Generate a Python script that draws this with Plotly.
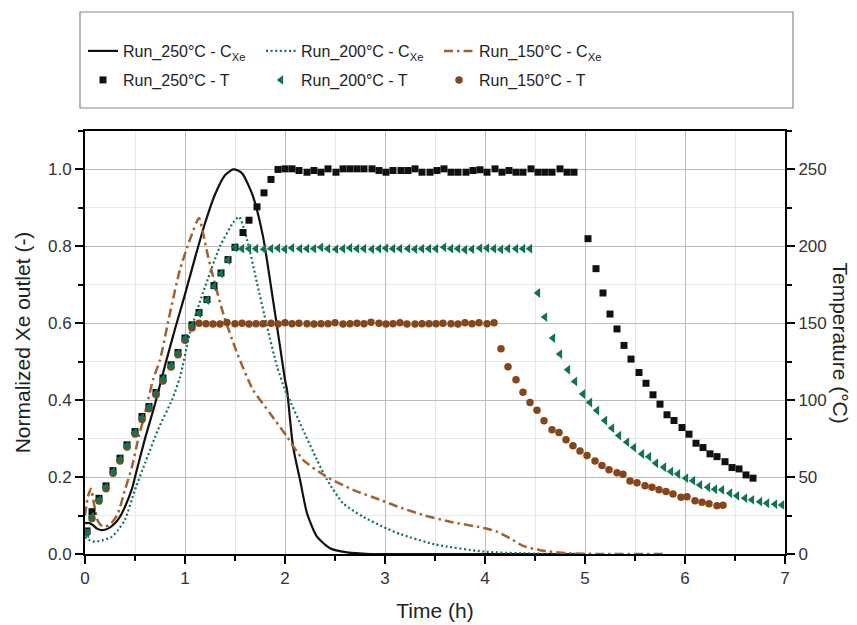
import plotly.graph_objects as go

# ---------------- Data ----------------
# Normalized Xe outlet concentration curves (left axis)
t_c250 = [0.00, 0.04, 0.08, 0.12, 0.17, 0.23, 0.30, 0.35, 0.40, 0.47, 0.50, 0.60, 0.70, 0.80, 0.90,
          1.00, 1.10, 1.20, 1.30, 1.40, 1.48, 1.53, 1.58, 1.68, 1.78, 1.88, 1.97, 2.00, 2.02, 2.08,
          2.15, 2.22, 2.32, 2.45, 2.62, 2.85, 3.50, 4.90]
c250 = [0.080, 0.081, 0.075, 0.066, 0.062, 0.066, 0.080, 0.097, 0.123, 0.170, 0.200, 0.300, 0.390,
        0.490, 0.585, 0.675, 0.770, 0.860, 0.935, 0.985, 1.000, 0.997, 0.987, 0.930, 0.826, 0.661,
        0.505, 0.453, 0.427, 0.280, 0.193, 0.106, 0.045, 0.015, 0.004, 0.000, 0.000, 0.000]

t_c200 = [0.00, 0.05, 0.10, 0.18, 0.27, 0.33, 0.40, 0.50, 0.60, 0.73, 0.87, 0.95, 1.05, 1.18, 1.35,
          1.48, 1.54, 1.62, 1.72, 1.82, 1.92, 2.00, 2.03, 2.18, 2.32, 2.42, 2.58, 2.78, 3.02, 3.15,
          3.50, 4.00, 4.50, 5.00]
c200 = [0.045, 0.035, 0.032, 0.036, 0.045, 0.062, 0.089, 0.167, 0.236, 0.323, 0.401, 0.460, 0.575,
        0.679, 0.800, 0.861, 0.877, 0.818, 0.705, 0.592, 0.488, 0.427, 0.410, 0.323, 0.245, 0.193,
        0.132, 0.097, 0.066, 0.052, 0.025, 0.006, 0.001, 0.000]

t_c150 = [0.00, 0.03, 0.06, 0.09, 0.13, 0.18, 0.24, 0.28, 0.33, 0.40, 0.47, 0.53, 0.60, 0.68, 0.75,
          0.85, 0.95, 1.05, 1.14, 1.18, 1.23, 1.28, 1.38, 1.52, 1.68, 1.85, 2.02, 2.18, 2.42, 2.68,
          2.95, 3.13, 3.40, 3.65, 4.00, 4.12, 4.25, 4.38, 4.55, 4.82, 5.20, 5.80]
c150 = [0.100, 0.150, 0.170, 0.130, 0.085, 0.071, 0.075, 0.085, 0.106, 0.167, 0.227, 0.297, 0.366,
        0.453, 0.505, 0.627, 0.740, 0.818, 0.874, 0.835, 0.774, 0.722, 0.627, 0.523, 0.427, 0.366,
        0.305, 0.245, 0.200, 0.167, 0.141, 0.123, 0.100, 0.084, 0.067, 0.058, 0.041, 0.021, 0.010,
        0.002, 0.000, 0.000]

# Temperature measurements (right axis)
t_T250 = [0.02, 0.07, 0.14, 0.21, 0.28, 0.35, 0.42, 0.50, 0.57, 0.64, 0.71, 0.78, 0.86, 0.93, 1.00,
          1.07, 1.14, 1.22, 1.29, 1.36, 1.43, 1.50, 1.58, 1.64, 1.72, 1.79, 1.86, 1.93,
          2.00, 2.07, 2.14, 2.22, 2.29, 2.36, 2.43, 2.51, 2.58, 2.65, 2.72, 2.79, 2.87, 2.94, 3.01,
          3.08, 3.16, 3.23, 3.30, 3.37, 3.45, 3.52, 3.59, 3.66, 3.73, 3.81, 3.88, 3.95, 4.02, 4.10,
          4.17, 4.24, 4.31, 4.38, 4.46, 4.53, 4.60, 4.67, 4.75, 4.82, 4.89,
          5.03, 5.11, 5.18, 5.25, 5.32, 5.39, 5.46, 5.54, 5.61, 5.68, 5.75, 5.82, 5.89, 5.97, 6.04,
          6.11, 6.18, 6.25, 6.32, 6.40, 6.47, 6.54, 6.61, 6.68]
T250 = [15.0, 27.5, 36.2, 44.3, 54.2, 62.3, 71.0, 79.6, 89.4, 95.9, 105.0, 114.4, 123.0, 131.0, 140.4,
        149.0, 157.0, 165.4, 174.5, 182.7, 191.4, 199.4, 209.0, 217.0, 225.7, 234.8, 243.5, 250.0,
        250.4, 250.4, 249.3, 248.2, 249.3, 248.2, 250.4, 248.2, 250.4, 250.4, 250.4, 250.4, 250.4,
        249.3, 248.2, 249.3, 249.3, 249.3, 250.4, 248.2, 248.2, 249.3, 250.4, 248.2, 248.2, 248.2,
        249.3, 249.8, 248.2, 250.4, 248.2, 249.3, 248.2, 248.2, 250.4, 248.2, 248.2, 248.2, 250.4,
        248.2, 248.2,
        205.0, 185.5, 169.7, 156.0, 146.3, 135.6, 126.7, 118.0, 111.0, 103.5, 97.4, 90.5, 86.8, 82.2,
        77.9, 72.0, 69.2, 65.1, 63.3, 60.0, 56.2, 55.3, 51.4, 49.3]

t_T200 = [0.02, 0.07, 0.14, 0.21, 0.28, 0.35, 0.42, 0.50, 0.57, 0.64, 0.71, 0.78, 0.86, 0.93, 1.00,
          1.07, 1.14, 1.22, 1.29, 1.36, 1.43,
          1.50, 1.57, 1.64, 1.71, 1.79, 1.86, 1.93, 2.00, 2.07, 2.15, 2.22, 2.29, 2.36, 2.43, 2.51,
          2.58, 2.65, 2.72, 2.79, 2.87, 2.94, 3.01, 3.08, 3.15, 3.23, 3.30, 3.37, 3.44, 3.51, 3.59,
          3.66, 3.73, 3.80, 3.87, 3.95, 4.02, 4.09, 4.16, 4.23, 4.31, 4.38, 4.45,
          4.53, 4.60, 4.68, 4.75, 4.83, 4.90, 4.98, 5.05, 5.12, 5.20, 5.27, 5.34, 5.42, 5.49, 5.57,
          5.64, 5.71, 5.79, 5.86, 5.93, 6.01, 6.08, 6.15, 6.23, 6.30, 6.37, 6.45, 6.52, 6.60, 6.67,
          6.75, 6.82, 6.90, 6.97]
T200 = [13.5, 24.3, 35.0, 43.5, 53.5, 61.5, 70.5, 79.0, 88.5, 95.5, 104.5, 114.0, 122.5, 130.5, 140.0,
        148.5, 156.5, 165.0, 174.0, 182.3, 191.0,
        199.4, 198.5, 198.5, 198.5, 198.2, 198.5, 198.8, 198.2, 199.0, 198.5, 198.5, 198.5, 199.4,
        198.5, 198.2, 198.5, 199.0, 198.5, 198.5, 198.2, 198.5, 198.8, 198.5, 198.5, 198.5, 198.2,
        198.5, 198.5, 198.5, 199.4, 198.5, 198.5, 197.8, 198.2, 198.8, 198.8, 198.5, 198.0, 198.5,
        198.5, 198.5, 198.5,
        169.7, 154.0, 140.4, 130.0, 119.8, 112.2, 104.0, 98.5, 93.3, 86.8, 81.8, 77.0, 72.7, 69.2,
        65.0, 63.3, 59.0, 56.4, 53.6, 52.0, 49.3, 47.7, 44.9, 43.4, 42.1, 41.7, 39.5, 37.8, 36.3,
        35.2, 34.0, 33.0, 32.4, 31.9]

t_T150 = [0.02, 0.07, 0.14, 0.21, 0.28, 0.35, 0.42, 0.50, 0.57, 0.64, 0.71, 0.78, 0.86, 0.93, 1.00,
          1.07,
          1.14, 1.21, 1.28, 1.35, 1.42, 1.50, 1.57, 1.64, 1.71, 1.78, 1.86, 1.93, 2.00, 2.07, 2.14,
          2.22, 2.29, 2.36, 2.43, 2.50, 2.58, 2.65, 2.72, 2.79, 2.86, 2.94, 3.01, 3.08, 3.15, 3.22,
          3.30, 3.37, 3.44, 3.51, 3.58, 3.66, 3.73, 3.80, 3.87, 3.94, 4.02, 4.09,
          4.16, 4.23, 4.31, 4.38, 4.45, 4.52, 4.59, 4.67, 4.74, 4.81, 4.88, 4.95, 5.02, 5.10, 5.17,
          5.24, 5.32, 5.38, 5.45, 5.52, 5.60, 5.67, 5.74, 5.81, 5.88, 5.96, 6.02, 6.10, 6.17, 6.24,
          6.32, 6.38]
T150 = [14.0, 23.0, 34.5, 42.5, 52.5, 60.5, 69.5, 78.0, 87.5, 94.5, 103.5, 112.5, 121.5, 129.5, 139.0,
        147.0,
        150.0, 149.7, 149.5, 149.5, 150.5, 149.7, 150.0, 149.5, 149.7, 149.7, 150.0, 149.5, 150.3,
        149.7, 150.0, 149.7, 149.5, 149.7, 149.7, 150.3, 149.5, 149.7, 150.0, 149.7, 150.6, 150.0,
        149.5, 149.7, 150.3, 149.5, 149.5, 149.7, 149.7, 149.7, 150.0, 149.7, 149.5, 150.3, 149.7,
        150.3, 149.7, 150.3,
        133.5, 121.7, 113.3, 105.2, 98.5, 93.5, 86.6, 80.7, 79.0, 74.2, 70.3, 67.0, 64.0, 60.5, 57.5,
        54.7, 52.9, 51.9, 47.5, 46.4, 44.3, 43.4, 41.7, 40.6, 39.0, 36.9, 37.3, 34.7, 33.6, 32.6,
        31.4, 31.7]

names_c = ["Run_250°C - C<sub>Xe</sub>", "Run_200°C - C<sub>Xe</sub>", "Run_150°C - C<sub>Xe</sub>"]
names_T = ["Run_250°C - T", "Run_200°C - T", "Run_150°C - T"]

# ---------------- Styles ----------------
BLACK = "#111111"
GREEN = "#127257"
BROWN_M = "#87451a"
BROWN_L = "#a0622e"
FONT = "Liberation Sans, Arial, sans-serif"

fig = go.Figure()

fig.add_trace(go.Scatter(x=t_c250, y=c250, mode="lines", name=names_c[0],
                         line=dict(color=BLACK, width=2.2, shape="spline", smoothing=0.6),
                         legend="legend", legendrank=1))
fig.add_trace(go.Scatter(x=t_c200, y=c200, mode="lines", name=names_c[1],
                         line=dict(color=GREEN, width=2.2, dash="2px,2.6px", shape="spline", smoothing=0.6),
                         legend="legend", legendrank=2))
fig.add_trace(go.Scatter(x=t_c150, y=c150, mode="lines", name=names_c[2],
                         line=dict(color=BROWN_L, width=2.5, dash="9px,4px,2.5px,4px", shape="spline", smoothing=0.6),
                         legend="legend", legendrank=3))

fig.add_trace(go.Scatter(x=t_T250, y=T250, mode="markers", name=names_T[0], yaxis="y2",
                         marker=dict(symbol="square", size=7, color=BLACK),
                         legend="legend2", legendrank=4))
fig.add_trace(go.Scatter(x=t_T150, y=T150, mode="markers", name=names_T[2], yaxis="y2",
                         marker=dict(symbol="circle", size=7.5, color=BROWN_M),
                         legend="legend2", legendrank=6))
fig.add_trace(go.Scatter(x=t_T200, y=T200, mode="markers", name=names_T[1], yaxis="y2",
                         marker=dict(symbol="triangle-left", size=8.5, color=GREEN),
                         legend="legend2", legendrank=5))

axis_common = dict(
    showline=True, linecolor="black", linewidth=2,
    tickfont=dict(family=FONT, size=17, color="#333333"),
    ticks="outside", tickcolor="black", tickwidth=1.5, ticklen=8,
    zeroline=False, automargin=False,
)

fig.update_layout(
    width=857, height=625,
    margin=dict(l=85, r=72, t=131, b=71),
    paper_bgcolor="white", plot_bgcolor="white",
    font=dict(family=FONT, color="#222222"),
    showlegend=True,
    xaxis=dict(range=[0, 7], dtick=1, tick0=0, mirror=True,
               showgrid=True, gridcolor="#bdbdbd", gridwidth=1.3,
               minor=dict(dtick=0.5, showgrid=True, gridcolor="#e8e8e8", gridwidth=1,
                          ticks="outside", ticklen=5, tickcolor="black", tickwidth=1.5),
               title=dict(text="Time (h)", font=dict(family=FONT, size=21, color="#222222"), standoff=16),
               **axis_common),
    yaxis=dict(range=[0, 1.1], dtick=0.2, tick0=0, tickformat=".1f",
               showgrid=True, gridcolor="#bdbdbd", gridwidth=1.3,
               minor=dict(dtick=0.1, showgrid=True, gridcolor="#e8e8e8", gridwidth=1,
                          ticks="outside", ticklen=5, tickcolor="black", tickwidth=1.5),
               title=dict(text="Normalized Xe outlet (-)", font=dict(family=FONT, size=21, color="#222222"),
                          standoff=12),
               **axis_common),
    yaxis2=dict(range=[0, 275], dtick=50, tick0=0, overlaying="y", side="right",
                showgrid=False,
                minor=dict(dtick=25, ticks="outside", ticklen=5, tickcolor="black", tickwidth=1.5),
                **axis_common),
    legend=dict(orientation="h", xref="container", yref="container",
                x=83 / 857, y=1 - 51 / 625, xanchor="left", yanchor="middle",
                bgcolor="rgba(0,0,0,0)", borderwidth=0,
                entrywidth=133, entrywidthmode="pixels",
                font=dict(family=FONT, size=16, color="#222222")),
    legend2=dict(orientation="h", xref="container", yref="container",
                 x=83 / 857, y=1 - 80 / 625, xanchor="left", yanchor="middle",
                 bgcolor="rgba(0,0,0,0)", borderwidth=0,
                 entrywidth=133, entrywidthmode="pixels",
                 font=dict(family=FONT, size=16, color="#222222")),
    shapes=[dict(type="rect", xref="paper", yref="paper",
                 x0=(80 - 85) / 700, x1=(793 - 85) / 700,
                 y0=(554 - 108) / 423, y1=(554 - 12) / 423,
                 line=dict(color="#8a8a8a", width=1.2), fillcolor="rgba(0,0,0,0)", layer="below")],
    annotations=[dict(text="Temperature (°C)", xref="paper", yref="paper",
                      x=(840 - 85) / 700, y=0.5, textangle=90, showarrow=False,
                      font=dict(family=FONT, size=21, color="#222222"),
                      xanchor="center", yanchor="middle")],
)

fig.write_html("out.html")
